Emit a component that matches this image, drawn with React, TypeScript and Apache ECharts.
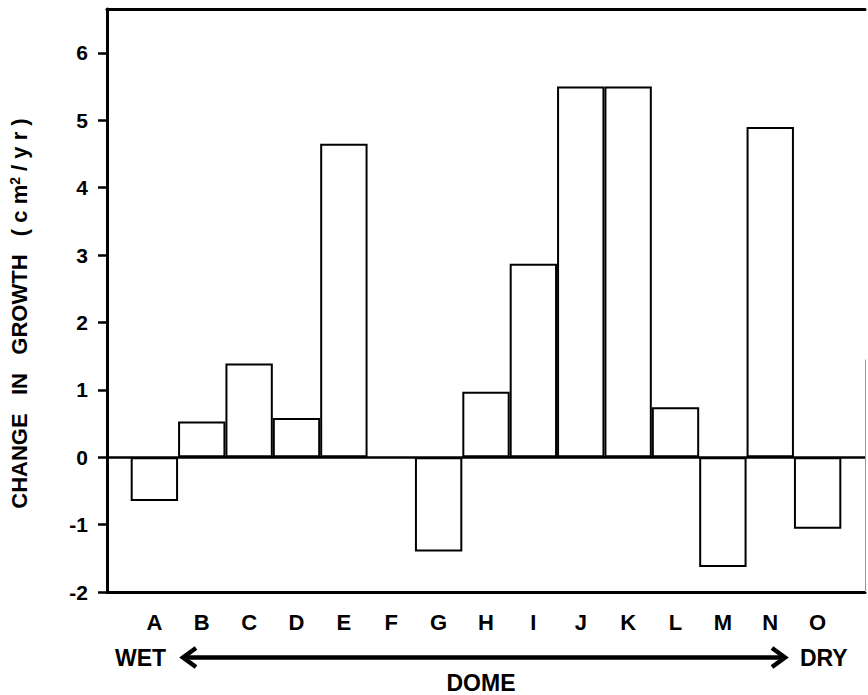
import React, { useEffect, useRef } from "react";
import * as echarts from "echarts";

const categories = ["A", "B", "C", "D", "E", "F", "G", "H", "I", "J", "K", "L", "M", "N", "O"];
const growth: (number | null)[] = [-0.65, 0.53, 1.39, 0.58, 4.65, null, -1.4, 0.97, 2.87, 5.5, 5.5, 0.74, -1.63, 4.9, -1.06];
const yTicks = [-2, -1, 0, 1, 2, 3, 4, 5, 6];
const yTitle = "CHANGE   IN   GROWTH   ( c m{sup|2} / y r )";

const FONT = "Liberation Sans";

export default function App() {
  const ref = useRef<HTMLDivElement>(null);
  useEffect(() => {
    if (!ref.current) return;
    const chart = echarts.init(ref.current, null, { renderer: "svg" });
    const frameLine = { color: "#000", width: 3 };
    const textStyle = { fontSize: 23, fontWeight: "bold", fontFamily: FONT, fill: "#000", textVerticalAlign: "middle" };
    chart.setOption({
      animation: false,
      backgroundColor: "#fff",
      grid: { left: 104, right: 1, top: 9, bottom: 103, containLabel: false },
      xAxis: [
        {
          type: "value",
          min: -1,
          max: 15,
          interval: 1,
          position: "bottom",
          axisLine: { show: true, onZero: false, lineStyle: frameLine },
          axisTick: { show: false },
          splitLine: { show: false },
          axisLabel: {
            formatter: (v: number) => categories[v] ?? "",
            margin: 19,
            fontSize: 22,
            fontWeight: "bold",
            color: "#000",
            fontFamily: FONT,
          },
        },
        {
          type: "value",
          min: -1,
          max: 15,
          position: "top",
          axisLine: { show: true, onZero: false, lineStyle: frameLine },
          axisTick: { show: false },
          axisLabel: { show: false },
          splitLine: { show: false },
        },
      ],
      yAxis: {
        type: "value",
        min: -2,
        max: 6.65,
        interval: 1,
        axisLine: { show: true, onZero: false, lineStyle: frameLine },
        axisTick: { show: true, inside: false, length: 9, lineStyle: { color: "#000", width: 2.5 }, customValues: yTicks },
        splitLine: { show: false },
        axisLabel: {
          customValues: yTicks,
          formatter: (v: number) => (Number.isInteger(v) ? String(v) : ""),
          margin: 19,
          fontSize: 21,
          fontWeight: "bold",
          color: "#000",
          fontFamily: FONT,
        },
        name: yTitle,
        nameLocation: "middle",
        nameGap: 76,
        nameTextStyle: {
          fontSize: 22,
          fontWeight: "bold",
          color: "#000",
          fontFamily: FONT,
          padding: [0, 26, 0, 0],
          rich: {
            sup: { fontSize: 14, fontWeight: "bold", color: "#000", fontFamily: FONT, verticalAlign: "top", padding: [0, 0, 9, 0] },
          },
        },
      },
      series: [
        {
          type: "bar",
          xAxisIndex: 0,
          yAxisIndex: 0,
          barWidth: "100%",
          data: growth.map((v, i) => [i, v === null ? "-" : v]),
          itemStyle: { color: "#fff", borderColor: "#000", borderWidth: 2 },
          emphasis: { disabled: true },
          markLine: {
            silent: true,
            symbol: "none",
            label: { show: false },
            data: [
              { yAxis: 0, lineStyle: { color: "#000", width: 2.5, type: "solid" } },
              [
                { coord: [15, -2], lineStyle: { color: "#999", width: 1, type: "solid" } },
                { coord: [15, 1.45] },
              ],
            ],
          },
        },
      ],
      graphic: [
        { type: "text", x: 115, y: 658, style: { ...textStyle, text: "WET", textAlign: "left" } },
        { type: "text", x: 800, y: 658, style: { ...textStyle, text: "DRY", textAlign: "left" } },
        { type: "text", x: 481, y: 683, style: { ...textStyle, text: "DOME", textAlign: "center" } },
        {
          type: "line",
          shape: { x1: 184, y1: 657.5, x2: 783, y2: 657.5 },
          style: { stroke: "#000", lineWidth: 4.5 },
        },
        {
          type: "polyline",
          shape: { points: [[196, 648], [183, 657.5], [196, 667]] },
          style: { stroke: "#000", lineWidth: 4.5, fill: null, lineJoin: "miter" },
        },
        {
          type: "polyline",
          shape: { points: [[772, 648], [785, 657.5], [772, 667]] },
          style: { stroke: "#000", lineWidth: 4.5, fill: null, lineJoin: "miter" },
        },
      ],
    });
    return () => chart.dispose();
  }, []);
  return <div ref={ref} style={{ position: "absolute", left: 0, top: 0, width: 868, height: 695 }} />;
}
